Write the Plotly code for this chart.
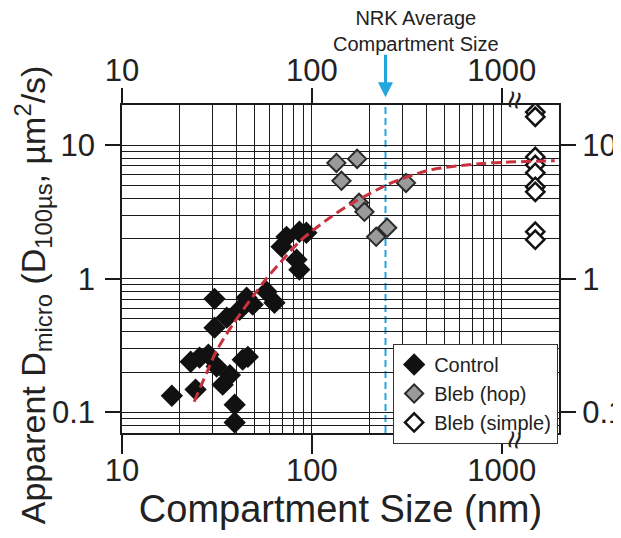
import math
import plotly.graph_objects as go

# ---------------- data ----------------
control_x = [18.3, 24.4, 23.0, 25.6, 28.5, 31.5, 33.9, 43.2, 39.2, 39.2, 30.7, 30.7,
             35.6, 41.6, 45.3, 48.8, 57.7, 63.5, 85.9, 73.5, 85.9, 69.2, 83.0, 93.5, 37.0, 46.0]
control_y = [0.133, 0.148, 0.239, 0.257, 0.27, 0.22, 0.161, 0.248, 0.114, 0.084, 0.708, 0.43,
             0.511, 0.586, 0.721, 0.64, 0.80, 0.661, 1.17, 2.06, 2.25, 1.74, 1.39, 2.21, 0.19, 0.26]

hop_x = [134.6, 173.0, 143.0, 177.0, 189.0, 218.0, 249.0, 313.0]
hop_y = [7.37, 7.9, 5.41, 3.70, 3.17, 2.06, 2.41, 5.22]

simple_x = [1500, 1500, 1500, 1500, 1500, 1500, 1500, 1500, 1500]
simple_y = [17.7, 16.3, 8.17, 7.12, 6.21, 4.88, 4.48, 2.25, 1.96]

fit_x = [24, 28, 31.5, 38.5, 49, 57.5, 70, 86, 101, 128, 164, 218, 244, 288, 414, 789, 1900]
fit_y = [0.12, 0.20, 0.29, 0.46, 0.74, 1.0, 1.38, 1.9, 2.3, 2.95, 3.7, 4.6, 5.0, 5.5, 6.5, 7.3, 7.65]

nrk_average = 244  # nm

x_tick_vals = [10, 100, 1000]
x_tick_text = ["10", "100", "1000"]
y_tick_vals = [0.1, 1, 10]
y_tick_text = ["0.1", "1", "10"]

x_min, x_max = 10, 2000
y_min, y_max = 0.07, 20

# ---------------- styling ----------------
FONT = "Liberation Sans, Arial, Helvetica, sans-serif"
TXT = "#222222"
GRID = "#1a1a1a"
BLUE = "#22a6de"
RED = "#c8323e"


def minor_vals(lo, hi):
    vals = []
    for e in range(-3, 5):
        for m in range(1, 10):
            v = m * 10 ** e
            if lo * 0.999 <= v <= hi * 1.001:
                vals.append(v)
    return vals


fig = go.Figure()

fig.add_trace(go.Scatter(
    x=control_x, y=control_y, mode="markers", name="Control",
    marker=dict(symbol="diamond", size=15, color="#111111",
                line=dict(color="#111111", width=2))))
fig.add_trace(go.Scatter(
    x=hop_x, y=hop_y, mode="markers", name="Bleb (hop)",
    marker=dict(symbol="diamond", size=14, color="#9a9a9a",
                line=dict(color="#2a2a2a", width=2))))
fig.add_trace(go.Scatter(
    x=simple_x, y=simple_y, mode="markers", name="Bleb (simple)",
    marker=dict(symbol="diamond", size=14, color="white",
                line=dict(color="#111111", width=2.5))))
# fit curve drawn on the (identical) top/right overlay axes, above the markers
fig.add_trace(go.Scatter(
    x=fit_x, y=fit_y, mode="lines", showlegend=False, hoverinfo="skip",
    xaxis="x2", yaxis="y2",
    line=dict(color=RED, width=3, dash="10px,5px", shape="spline", smoothing=0.8)))

tick_font = dict(family=FONT, size=31, color=TXT)

fig.update_layout(
    template="none",
    width=613, height=530,
    margin=dict(l=114, r=62, t=97, b=105, autoexpand=False),
    paper_bgcolor="white", plot_bgcolor="white",
    font=dict(family=FONT, color=TXT),
    xaxis=dict(
        type="log", automargin=False,
        range=[math.log10(x_min), math.log10(x_max)],
        tickmode="array", tickvals=x_tick_vals, ticktext=x_tick_text,
        tickfont=tick_font, ticklabelstandoff=-10,
        ticks="outside", ticklen=19, tickwidth=1.5, tickcolor=GRID,
        showgrid=True, gridcolor=GRID, gridwidth=1.4, zeroline=False,
        showline=True, linecolor=GRID, linewidth=1.5, mirror=True,
        minor=dict(tickmode="array", tickvals=minor_vals(x_min, 1000),
                   showgrid=True, gridcolor=GRID, gridwidth=1.4, ticks=""),
        title=dict(text="Compartment Size (nm)",
                   font=dict(family=FONT, size=38, color=TXT), standoff=3),
    ),
    yaxis=dict(
        type="log", automargin=False,
        range=[math.log10(y_min), math.log10(y_max)],
        tickmode="array", tickvals=y_tick_vals, ticktext=y_tick_text,
        tickfont=tick_font, ticklabelstandoff=4,
        ticks="outside", ticklen=15, tickwidth=1.5, tickcolor=GRID,
        showgrid=True, gridcolor=GRID, gridwidth=1.4, zeroline=False,
        showline=True, linecolor=GRID, linewidth=1.5, mirror=True,
        minor=dict(tickmode="array", tickvals=minor_vals(y_min, y_max),
                   showgrid=True, gridcolor=GRID, gridwidth=1.4, ticks=""),
    ),
    xaxis2=dict(
        type="log", overlaying="x", side="top", anchor="y", automargin=False,
        range=[math.log10(x_min), math.log10(x_max)],
        tickmode="array", tickvals=x_tick_vals, ticktext=x_tick_text,
        tickfont=tick_font, ticklabelstandoff=-5,
        ticks="outside", ticklen=16, tickwidth=1.5, tickcolor=GRID,
        showgrid=False, zeroline=False, showline=False,
    ),
    yaxis2=dict(
        type="log", overlaying="y", side="right", anchor="x", automargin=False,
        range=[math.log10(y_min), math.log10(y_max)],
        tickmode="array", tickvals=y_tick_vals, ticktext=y_tick_text,
        tickfont=tick_font,
        ticks="outside", ticklen=16, tickwidth=1.5, tickcolor=GRID,
        showgrid=False, zeroline=False, showline=False,
    ),
    legend=dict(
        x=0.62, y=0.272, xanchor="left", yanchor="top",
        bgcolor="white", bordercolor="#333333", borderwidth=1.2,
        font=dict(family=FONT, size=20, color=TXT),
        itemwidth=30, tracegroupgap=0,
    ),
    showlegend=True,
)

# NRK average compartment size: dashed line + arrow + label
fig.add_shape(type="line", xref="x", yref="paper", x0=nrk_average, x1=nrk_average,
              y0=0, y1=1, layer="between",
              line=dict(color=BLUE, width=2, dash="7px,4px"))
fig.add_annotation(xref="x", yref="paper", x=math.log10(nrk_average), y=1.024,
                   ax=0, ay=-44, text="", showarrow=True, arrowhead=2,
                   arrowsize=1, arrowwidth=3, arrowcolor=BLUE)
fig.add_annotation(xref="paper", yref="paper", x=0.673, y=1.2256,
                   text="NRK Average<br>Compartment Size",
                   xanchor="center", yanchor="middle", showarrow=False,
                   font=dict(family=FONT, size=20, color=TXT))

# axis break marks
for yy in (1.015, -0.022):
    fig.add_annotation(xref="paper", yref="paper", x=0.899, y=yy, text="≈",
                       xanchor="center", yanchor="middle",
                       showarrow=False, textangle=100,
                       font=dict(family=FONT, size=32, color=TXT))

# y-axis title
fig.add_annotation(xref="paper", yref="paper", x=0, y=0.42, xshift=-89,
                   xanchor="center", yanchor="middle", textangle=-90, showarrow=False,
                   text="Apparent D<sub>micro</sub> (D<sub>100µs</sub>, µm<sup>2</sup>/s)",
                   font=dict(family=FONT, size=34, color=TXT))

fig.write_html("out.html")
